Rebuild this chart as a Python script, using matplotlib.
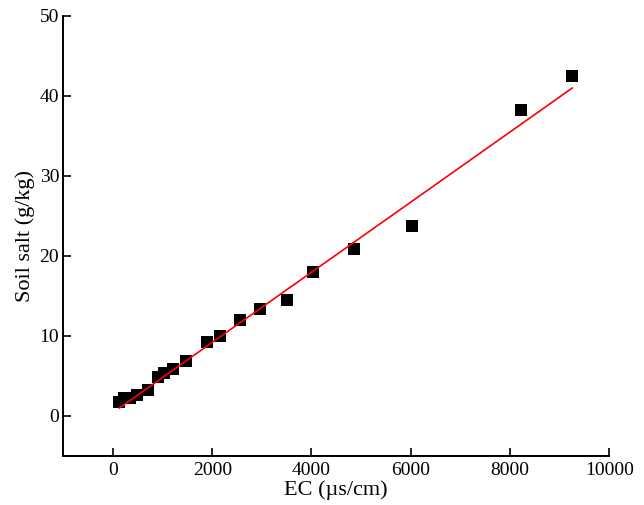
import matplotlib
matplotlib.use("Agg")
import matplotlib.pyplot as plt
import numpy as np

# Data
ec = [130, 220, 350, 480, 700, 900, 1030, 1220, 1470, 1885, 2150, 2560,
      2970, 3510, 4030, 4860, 6020, 8220, 9255]
salt = [1.7, 2.2, 2.3, 2.6, 3.3, 4.9, 5.4, 5.9, 6.9, 9.2, 10.0, 12.0,
        13.4, 14.5, 18.0, 20.8, 23.7, 38.2, 42.5]
fit_slope = 0.00438
fit_intercept = 0.43
x_ticks = [0, 2000, 4000, 6000, 8000, 10000]
y_ticks = [0, 10, 20, 30, 40, 50]

plt.rcParams['font.family'] = ['Liberation Serif', 'DejaVu Serif']

fig = plt.figure(figsize=(6.44, 5.05), dpi=100)
ax = fig.add_axes([0.0983, 0.097, 0.8478, 0.872])

ax.plot(ec, salt, linestyle='none', marker='s', markersize=8.6,
        color='black', markeredgewidth=0, zorder=2)
xf = np.array([min(ec), max(ec)])
ax.plot(xf, fit_slope * xf + fit_intercept, color='red', linewidth=1.2, zorder=3)

ax.set_xlim(-1000, 10000)
ax.set_ylim(-5, 50)
ax.set_xticks(x_ticks)
ax.set_yticks(y_ticks)
ax.spines['top'].set_visible(False)
ax.spines['right'].set_visible(False)
for s in ('left', 'bottom'):
    ax.spines[s].set_linewidth(1.4)
ax.tick_params(direction='in', length=6, width=1.2, labelsize=14, colors='black')
ax.tick_params(axis='x', pad=4)
ax.tick_params(axis='y', pad=3)

ax.set_xlabel('EC (\u00b5s/cm)', fontsize=16, labelpad=1)
ax.set_ylabel('Soil salt (g/kg)', fontsize=16, labelpad=3)

fig.savefig('out.png', dpi=100)
